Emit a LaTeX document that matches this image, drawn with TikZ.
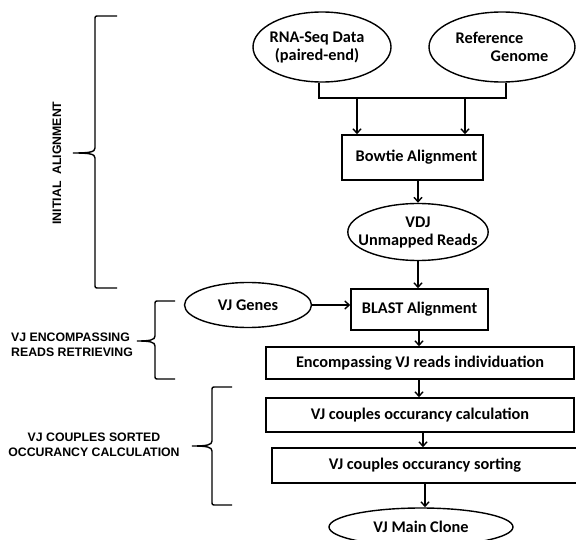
\documentclass[tikz,border=0pt]{standalone}
\usepackage{fontspec}
\setmainfont{Carlito}
\newfontfamily\arialfont{Liberation Sans}
\usetikzlibrary{arrows.meta,shapes.geometric}
\tikzset{
  every node/.style={font=\fontsize{16.3}{18}\selectfont\bfseries, inner sep=0pt},
  proc/.style={draw, line width=1.4pt, rectangle, align=center},
  oval/.style={draw, line width=1.4pt, ellipse, align=center},
  arr/.style={line width=1.4pt, -{Straight Barb[length=4.5pt,width=8pt]}},
  conn/.style={line width=1.4pt},
  braceline/.style={line width=1.4pt},
  bracelabel/.style={font=\arialfont\fontsize{12.3}{14.5}\selectfont\bfseries}
}
\newcommand\mybrace[6]{\draw[braceline] (#6,#2) -- ({#1+4},#2) .. controls (#1,#2) .. (#1,{#2+4}) -- (#1,{#4-5}) .. controls (#1,{#4-1}) and ({#1-5},#4) .. (#5,#4) .. controls ({#1-5},#4) and (#1,{#4+1}) .. (#1,{#4+5}) -- (#1,{#3-4}) .. controls (#1,#3) .. ({#1+4},#3) -- (#6,#3);}
\begin{document}
\begin{tikzpicture}[x=1pt,y=-1pt]
\path[use as bounding box] (0,0) rectangle (576,540);
\begin{scope}
\clip (0,0) rectangle (576,540);
% nodes
\node[oval, minimum width=138, minimum height=70, inner xsep=-8pt] (rna) at (322,47) {\hspace*{-10pt}RNA-Seq Data\\\hspace*{-10pt}(paired-end)};
\node[oval, minimum width=146, minimum height=70, inner xsep=-8pt, align=left] (ref) at (502,47) {Reference\\\hspace*{35pt}Genome};
\node[proc, minimum width=141, minimum height=45] (bowtie) at (412.5,157.5) {\hspace*{8pt}Bowtie Alignment};
\node[oval, minimum width=137, minimum height=57, inner xsep=-10pt] (vdj) at (418,232) {VDJ\\Unmapped Reads};
\node[proc, minimum width=137, minimum height=41] (blast) at (419.5,309.5) {BLAST Alignment};
\node[oval, minimum width=127, minimum height=45] (vjg) at (248,305) {VJ Genes};
\node[proc, minimum width=308, minimum height=32] (enc) at (420,363) {Encompassing VJ reads individuation};
\node[proc, minimum width=308, minimum height=34] (calc) at (420,415) {VJ couples occurancy calculation};
\node[proc, minimum width=306, minimum height=35] (sort) at (425,465.5) {VJ couples occurancy sorting};
\node[oval, minimum width=184, minimum height=38] (clone) at (421,527) {VJ Main Clone};
% connectors
\coordinate (jl) at (319,98);
\coordinate (jr) at (506,98);
\draw[conn] (rna.south -| jl) -- (jl) -- (jr) -- (ref.south -| jr);
\coordinate (a1) at (357,98);
\coordinate (a2) at (465,98);
\draw[arr] (a1) -- (a1 |- bowtie.north);
\draw[arr] (a2) -- (a2 |- bowtie.north);
\draw[arr] (bowtie.south -| vdj.north) -- (vdj.north);
\draw[arr] (vdj.south) -- (vdj.south |- blast.north);
\draw[arr] (vjg.east) -- (blast.west |- vjg.east);
\coordinate (b1) at (419,0);
\draw[arr] (blast.south -| b1) -- (enc.north -| b1);
\draw[arr] (enc.south -| b1) -- (calc.north -| b1);
\coordinate (b2) at (423,0);
\draw[arr] (calc.south -| b2) -- (sort.north -| b2);
\coordinate (b3) at (425,0);
\draw[arr] (sort.south -| b3) -- (clone.north -| b3);
% braces
\mybrace{95}{16}{288}{153}{73}{117}
\mybrace{155}{301}{379}{341}{137}{175}
\mybrace{212}{387}{505}{446}{192}{232}
% labels
\node[bracelabel, rotate=90] (lab1) at (57,163) {INITIAL\ \ ALIGNMENT};
\node[bracelabel, align=left, anchor=west] (lab2) at (11,345) {VJ ENCOMPASSING\\READS RETRIEVING};
\node[bracelabel, align=center] (lab3) at (94,445) {VJ COUPLES SORTED\\OCCURANCY CALCULATION};
\end{scope}
\end{tikzpicture}
\end{document}
